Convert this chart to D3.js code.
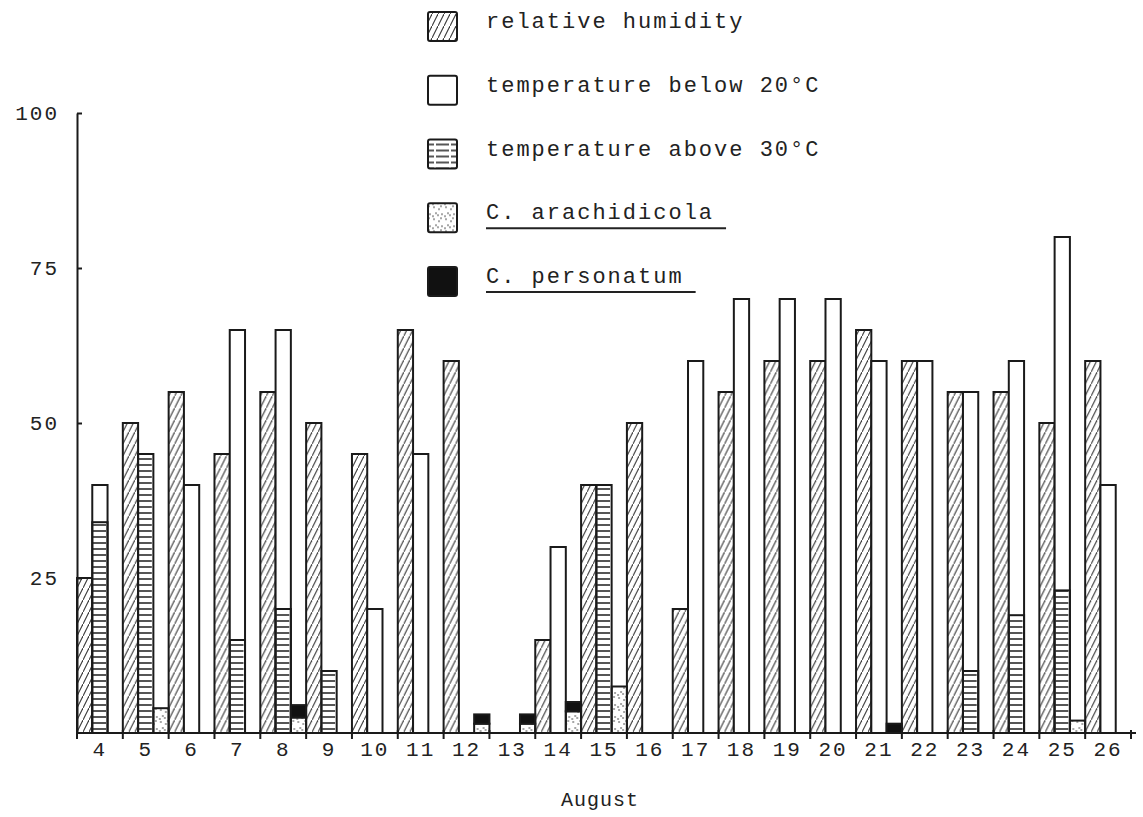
<!doctype html>
<html lang="en">
	<head>
		<meta charset="utf-8">
		<title>August - humidity, temperature and leaf spot</title>
		<style type="text/css">
			body {
				margin: 0;
				background-color: white;
			}
			svg {
				background-color: white;
				font-family: "Liberation Mono", "DejaVu Sans Mono", monospace;
			}
			.axis path,
			.axis line {
				fill: none;
				stroke: #1a1a1a;
				stroke-width: 2px;
			}
			.axis text {
				font-family: "Liberation Mono", monospace;
				font-size: 21px;
				letter-spacing: 2px;
				fill: #222;
			}
			rect.bar {
				stroke: #1a1a1a;
				stroke-width: 2px;
			}
			.legend text {
				font-size: 22px;
				letter-spacing: 2px;
				fill: #222;
			}
			.legend line {
				stroke: #222;
				stroke-width: 2px;
			}
		</style>
	</head>
	<body>
		<script type="text/javascript" src="https://cdnjs.cloudflare.com/ajax/libs/d3/7.8.5/d3.min.js"></script>
		<script type="text/javascript">
			// values (percent), one per day of August
			var days = [4, 5, 6, 7, 8, 9, 10, 11, 12, 13, 14, 15, 16, 17, 18, 19, 20, 21, 22, 23, 24, 25, 26];
			var humidity     = [25, 50, 55, 45, 55, 50, 45, 65, 60, 0, 15, 40, 50, 20, 55, 60, 60, 65, 60, 55, 55, 50, 60];
			var below20      = [40, 0, 40, 65, 65, 0, 20, 45, 0, 0, 30, 0, 0, 60, 70, 70, 70, 60, 60, 55, 60, 80, 40];
			var above30      = [34, 45, 0, 15, 20, 10, 0, 0, 0, 0, 0, 40, 0, 0, 0, 0, 0, 0, 0, 10, 19, 23, 0];
			var arachidicola = [0, 4, 0, 0, 2.5, 0, 0, 0, 1.5, 1.5, 3.5, 7.5, 0, 0, 0, 0, 0, 0, 0, 0, 0, 2, 0];
			var personatum   = [0, 0, 0, 0, 2, 0, 0, 0, 1.5, 1.5, 1.5, 0, 0, 0, 0, 0, 0, 1.5, 0, 0, 0, 0, 0];
			var yTicks = [25, 50, 75, 100];
			var legendItems = [
				{ label: "relative humidity", fill: "url(#hatch)", underline: false },
				{ label: "temperature below 20\u00b0C", fill: "white", underline: false },
				{ label: "temperature above 30\u00b0C", fill: "url(#hlines)", underline: false },
				{ label: "C. arachidicola", fill: "url(#dots)", underline: true },
				{ label: "C. personatum", fill: "#111", underline: true }
			];

			var fullwidth = 1143;
			var fullheight = 817;

			var svg = d3.select("body")
						.append("svg")
						.attr("width", fullwidth)
						.attr("height", fullheight);

			// fill patterns imitating the typed/hand drawn shading
			var defs = svg.append("defs");
			var hatch = defs.append("pattern")
				.attr("id", "hatch")
				.attr("patternUnits", "userSpaceOnUse")
				.attr("width", 6)
				.attr("height", 12);
			hatch.append("line")
				.attr("x1", 0).attr("y1", 12).attr("x2", 6).attr("y2", 0)
				.attr("stroke", "#3a3a3a").attr("stroke-width", 1.1);

			var hl = defs.append("pattern")
				.attr("id", "hlines")
				.attr("patternUnits", "userSpaceOnUse")
				.attr("width", 15)
				.attr("height", 6);
			hl.append("line")
				.attr("x1", 1).attr("y1", 3).attr("x2", 14).attr("y2", 3)
				.attr("stroke", "#2a2a2a").attr("stroke-width", 1.6);

			var dots = defs.append("pattern")
				.attr("id", "dots")
				.attr("patternUnits", "userSpaceOnUse")
				.attr("width", 12)
				.attr("height", 12);
			[[2, 2], [7, 4], [10, 9], [4, 8], [1, 11], [9, 1], [6, 10]].forEach(function(p) {
				dots.append("circle")
					.attr("cx", p[0]).attr("cy", p[1]).attr("r", 0.8)
					.attr("fill", "#333");
			});

			var xScale = d3.scaleBand()
				.domain(days)
				.range([77, 1131])
				.padding(0);
			var slot = d3.scaleBand()
				.domain([0, 1, 2])
				.range([0, xScale.bandwidth()]);
			var yScale = d3.scaleLinear()
				.domain([0, 100])
				.range([733, 113]);

			var dataset = days.map(function(d, i) {
				return {
					day: d,
					humidity: humidity[i],
					below20: below20[i],
					above30: above30[i],
					arach: arachidicola[i],
					person: personatum[i]
				};
			});

			var groups = svg.selectAll("g.day")
				.data(dataset)
				.enter()
				.append("g")
				.attr("class", "day")
				.attr("transform", function(d) { return "translate(" + xScale(d.day) + ",0)"; });

			function bar(sel, s, y0, y1, fill) {
				sel.append("rect")
					.attr("class", "bar")
					.attr("x", slot(s))
					.attr("width", slot.bandwidth())
					.attr("y", yScale(y1))
					.attr("height", yScale(y0) - yScale(y1))
					.attr("fill", fill);
			}

			groups.each(function(d) {
				var g = d3.select(this);
				if (d.humidity > 0) bar(g, 0, 0, d.humidity, "url(#hatch)");
				if (d.below20 > 0) bar(g, 1, 0, d.below20, "white");
				if (d.above30 > 0) bar(g, 1, 0, d.above30, "url(#hlines)");
				if (d.arach > 0) bar(g, 2, 0, d.arach, "url(#dots)");
				if (d.person > 0) bar(g, 2, d.arach, d.arach + d.person, "#111");
			});

			// axes
			var yAxis = d3.axisLeft(yScale)
				.tickValues(yTicks)
				.tickSize(-5)
				.tickSizeOuter(0)
				.tickPadding(18);
			svg.append("g")
				.attr("class", "y axis")
				.attr("transform", "translate(77,0)")
				.call(yAxis);

			var xAxis = d3.axisBottom(xScale)
				.tickSize(0)
				.tickSizeOuter(0)
				.tickPadding(8);
			var xg = svg.append("g")
				.attr("class", "x axis")
				.attr("transform", "translate(0,733)")
				.call(xAxis);
			xg.select(".domain").attr("d", "M77,0H1136");
			// small ticks between the days
			xg.selectAll("line.sep")
				.data(days.concat([null]))
				.enter()
				.append("line")
				.attr("class", "sep")
				.attr("x1", function(d) { return d === null ? 1131 : xScale(d); })
				.attr("x2", function(d) { return d === null ? 1131 : xScale(d); })
				.attr("y1", -3)
				.attr("y2", 6);

			svg.append("text")
				.attr("x", 600)
				.attr("y", 806)
				.attr("text-anchor", "middle")
				.style("font-size", "20px")
				.style("letter-spacing", "1px")
				.style("fill", "#222")
				.text("August");

			// legend
			var legend = svg.append("g").attr("class", "legend");
			var rowY = d3.scalePoint()
				.domain(d3.range(legendItems.length))
				.range([26, 281]);
			var rows = legend.selectAll("g")
				.data(legendItems)
				.enter()
				.append("g")
				.attr("transform", function(d, i) { return "translate(0," + rowY(i) + ")"; });
			rows.append("rect")
				.attr("class", "bar")
				.attr("x", 428)
				.attr("y", -14)
				.attr("width", 29)
				.attr("height", 29)
				.attr("rx", 2)
				.attr("fill", function(d) { return d.fill; });
			rows.append("text")
				.attr("x", 486)
				.attr("y", 0)
				.attr("dy", "0.1em")
				.text(function(d) { return d.label; });
			rows.filter(function(d) { return d.underline; })
				.append("line")
				.attr("x1", 486)
				.attr("x2", function(d) { return 486 + this.parentNode.querySelector("text").getComputedTextLength() + 12; })
				.attr("y1", 11)
				.attr("y2", 11);
		</script>
	</body>
</html>
